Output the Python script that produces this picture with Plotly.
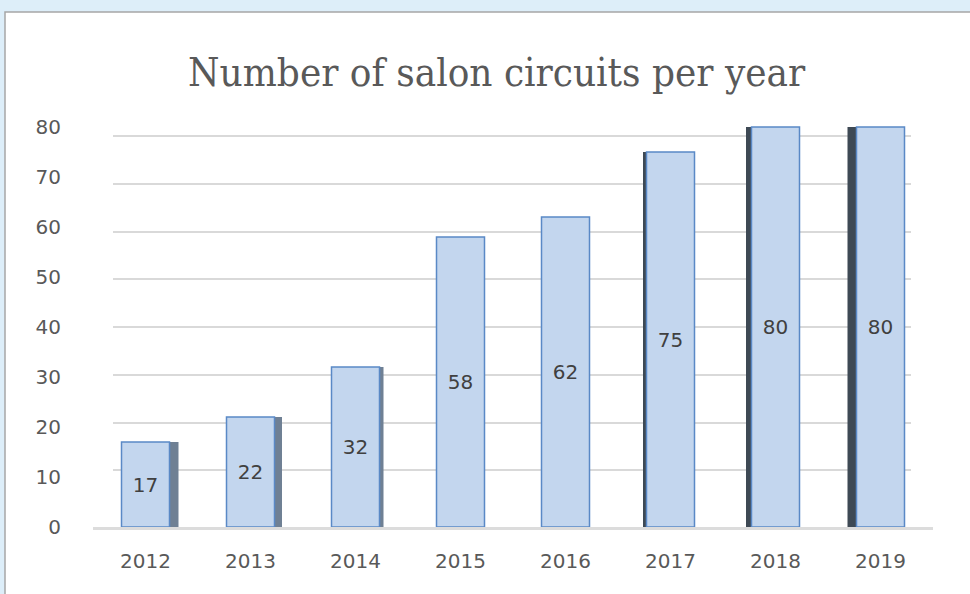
import plotly.graph_objects as go

# ---- data ----
years = ["2012", "2013", "2014", "2015", "2016", "2017", "2018", "2019"]
circuits = [17, 22, 32, 58, 62, 75, 80, 80]
y_ticks = [0, 10, 20, 30, 40, 50, 60, 70, 80]
title_text = "Number of salon circuits per year"

# ---- layout constants ----
W, H = 970, 594
ML, MR, MT, MB = 93, 37, 122, 67
PW, PH = W - ML - MR, H - MT - MB
CAT_PX = PW / len(years)

def px2x(px):
    return (px - ML) / PW

def px2y(py):
    return (H - MB - py) / PH

# 3D side face style: (offset px from centre, width px, colour)
RIGHT_SIDE = "#6f8094"
LEFT_SIDE = "#3e4954"
side_style = [
    (24, 9, RIGHT_SIDE), (23.5, 8, RIGHT_SIDE), (24, 4, RIGHT_SIDE),
    (0, 0, RIGHT_SIDE), (0, 0, RIGHT_SIDE),
    (-27.5, 4, LEFT_SIDE), (-29.5, 5, LEFT_SIDE), (-33, 9, LEFT_SIDE),
]
BAR_W = 48 / CAT_PX

fig = go.Figure()

# back-wall grid subplot (x / y), drawn first
fig.add_trace(go.Scatter(x=[], y=[], xaxis="x", yaxis="y", showlegend=False,
                         hoverinfo="skip"))

# side faces
fig.add_trace(go.Bar(
    x=years, y=circuits, xaxis="x2", yaxis="y2",
    offset=[s[0] / CAT_PX for s in side_style],
    width=[max(s[1], 0.01) / CAT_PX for s in side_style],
    marker=dict(color=[s[2] for s in side_style], line=dict(width=0)),
    hoverinfo="skip", showlegend=False,
))

# front faces
fig.add_trace(go.Bar(
    x=years, y=circuits, xaxis="x2", yaxis="y2",
    width=BAR_W, offset=-BAR_W / 2,
    marker=dict(color="#c3d6ee", line=dict(color="#5a89c6", width=1.5)),
    text=[str(v) for v in circuits],
    textposition="inside", insidetextanchor="middle", textangle=0,
    textfont=dict(family="DejaVu Sans", size=20, color="#404040"),
    showlegend=False,
))

tickfont = dict(family="DejaVu Sans", size=20, color="#595959")
GRID_PX_PER_UNIT = (518 - 136) / 80

fig.update_layout(
    width=W, height=H,
    margin=dict(l=ML, r=MR, t=MT, b=MB),
    paper_bgcolor="#ddeef9",
    plot_bgcolor="rgba(0,0,0,0)",
    barmode="overlay",
    title=dict(text=title_text, x=0.512, xanchor="center", y=1 - 72 / H, yanchor="middle",
               font=dict(family="DejaVu Serif Condensed", size=40, color="#595959")),
    # back wall gridlines
    xaxis=dict(domain=[px2x(113), px2x(911)], range=[0, 1], visible=False,
               showgrid=False, zeroline=False),
    yaxis=dict(domain=[px2y(518), px2y(136 - 2 * GRID_PX_PER_UNIT)], range=[0, 82],
               tickvals=y_ticks, showgrid=True, gridcolor="#d9d9d9", gridwidth=1.5,
               zeroline=False, showticklabels=False, ticks="", showline=False),
    # bars
    xaxis2=dict(domain=[0, 1], anchor="y2", type="category", showgrid=False,
                showline=True, linecolor="#dcdcdc", linewidth=3, zeroline=False,
                ticks="", ticklabelstandoff=14, tickfont=tickfont),
    yaxis2=dict(domain=[0, 1], anchor="x2", range=[0, 81], tickvals=y_ticks,
                showgrid=False, zeroline=False, showline=False, ticks="",
                ticklabelstandoff=31, tickfont=tickfont),
    shapes=[
        dict(type="rect", xref="paper", yref="paper", layer="below",
             x0=px2x(5), x1=px2x(980), y0=px2y(605), y1=px2y(12),
             fillcolor="white", line=dict(color="#a6a6a6", width=1.5)),
    ],
)

fig.write_html("out.html",
               config={"displayModeBar": False},
               post_script="document.body.style.margin='0';"
                           "document.body.style.background='#ddeef9';")
